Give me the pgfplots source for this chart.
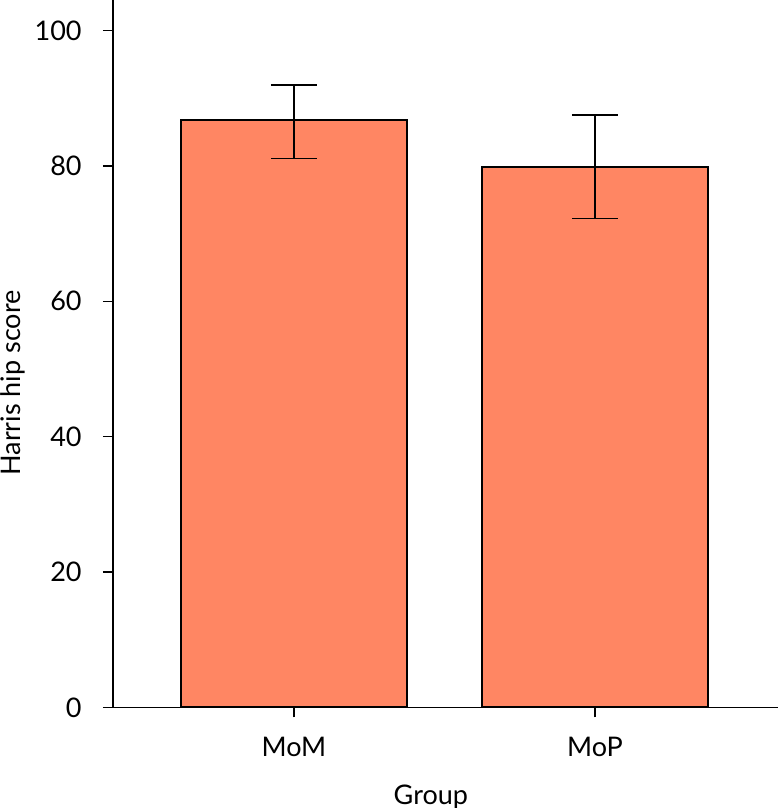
\documentclass[border=0pt]{standalone}
\usepackage{fontspec}
\setmainfont{Lato}
\usepackage{pgfplots}
\pgfplotsset{compat=1.18}
\usetikzlibrary{calc}
\definecolor{barfill}{RGB}{255,134,99}
\begin{document}
\fontsize{13.5}{16}\selectfont
\begin{tikzpicture}
\begin{axis}[
  name=ax,
  scale only axis,
  width=332.5pt, height=353.7pt,
  xmin=-0.601, xmax=1.608,
  ymin=0, ymax=104.5,
  axis x line=bottom, axis y line=left,
  axis line style={-, line width=0.7pt, black},
  tick style={line width=0.7pt, black},
  tick align=outside,
  major tick length=5pt,
  xtick={0,1}, xticklabels={MoM,MoP},
  ytick={0,20,40,60,80,100},
  /pgf/number format/assume math mode=true,
  every tick label/.append style={inner sep=0pt, font=\fontsize{13.5}{16}\selectfont},
  yticklabel shift=10.5pt,
  xticklabel shift=9.8pt,
  xlabel={Group},
  ylabel={Harris hip score},
  xlabel style={at={(axis description cs:0.478,0)}, anchor=north, yshift=-38.8pt, inner sep=0pt, font=\fontsize{13.5}{16}\selectfont},
  ylabel style={at={(axis description cs:-0.1504,0.4586)}, anchor=center, inner sep=0pt, font=\fontsize{13.5}{16}\selectfont},
  ybar, bar width=0.75,
]
\addplot[fill=barfill, draw=black, line width=1pt,
  error bars/.cd, y dir=both, y explicit,
  error bar style={line width=0.8pt, black},
  error mark options={rotate=90, mark size=11.5pt, line width=0.8pt, black}]
  coordinates {
    (0,86.7) +- (0,5.2) -= (0,5.6)
    (1,79.9) +- (0,7.6) -= (0,7.7)
  };
\end{axis}
\pgfresetboundingbox
\path[use as bounding box] ($(ax.south west)+(-56.5pt,-50.3pt)$) rectangle ($(ax.north east)+(1pt,0pt)$);
\end{tikzpicture}
\end{document}
